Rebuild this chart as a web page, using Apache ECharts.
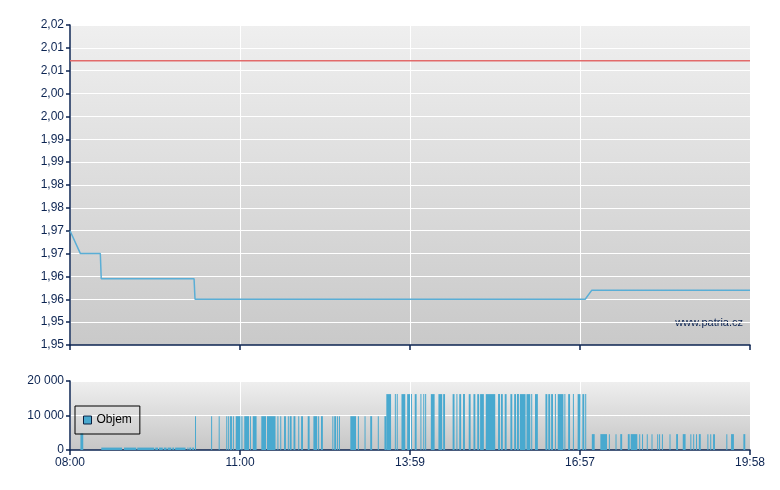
<!DOCTYPE html>
<html>
<head>
<meta charset="utf-8">
<script src="https://cdn.jsdelivr.net/npm/echarts@6/dist/echarts.min.js"></script>
<style>html,body{margin:0;padding:0;background:#fff;}#c{width:780px;height:490px;}</style>
</head>
<body>
<div id="c"></div>
<script>
// minutes since 08:00
var xLabels = ['08:00', '11:00', '13:59', '16:57', '19:58'];
var xMax = 718;
var priceLine = [[0, 1.975], [11, 1.970], [32, 1.970], [33, 1.9645], [131, 1.9645], [132, 1.960], [544, 1.960], [551, 1.962], [718, 1.962]];
var refPrice = 2.0122;
var priceTicks = { min: 1.95, max: 2.02, step: 0.005 };
var volTicks = { min: 0, max: 20000, step: 10000 };
// [start minute, end minute, volume]
var volumeBars = [
  [11,14,4800],
  [33,55,700],[57,70,700],[71,89,700],[90,93,700],[94,98,700],[99,102,700],[103,107,700],[108,110,700],[111,122,700],[124,125,700],[126,128,700],[129,131,700],
  [132,133,9800],[149,150,9800],[157,158,9800],[165,166,9800],[167,168,9800],[169,171,9800],[172,173,9800],[175,180,9800],
  [181,182,9800],[184,189,9800],[190,191,9800],[193,197,9800],[202,207,9800],[208,217,9800],[219,220,9800],[222,223,9800],
  [226,228,9800],[230,231,9800],[232,234,9800],[236,238,9800],[241,242,9800],[244,246,9800],[251,253,9800],[257,261,9800],
  [262,263,9800],[265,267,9800],[277,278,9800],[279,281,9800],[282,283,9800],[284,285,9800],[296,302,9800],[304,305,9800],
  [311,312,9800],[317,319,9800],[325,326,9800],[332,334,9800],
  [334,339,16200],[343,344,16200],[345,346,16200],[350,354,16200],[356,359,16200],[360,361,16200],[364,366,16200],
  [370,371,16200],[373,374,16200],[375,376,16200],[381,385,16200],[389,393,16200],[394,396,16200],[404,406,16200],
  [408,409,16200],[411,413,16200],[415,417,16200],[421,423,16200],[426,428,16200],[430,432,16200],[433,437,16200],
  [439,449,16200],[452,454,16200],[455,457,16200],[459,461,16200],[465,467,16200],[469,471,16200],[472,474,16200],
  [475,481,16200],[482,486,16200],[487,488,16200],[491,494,16200],[502,504,16200],[505,507,16200],[508,510,16200],
  [512,513,16200],[515,521,16200],[522,523,16200],[526,528,16200],[531,532,16200],[536,539,16200],[541,543,16200],[544,545,16200],
  [551,554,4600],[560,567,4600],[569,570,4600],[576,577,4600],[581,583,4600],[589,591,4600],[592,599,4600],[601,602,4600],
  [604,605,4600],[609,610,4600],[614,615,4600],[620,621,4600],[622,623,4600],[625,626,4600],[633,634,4600],[640,642,4600],
  [647,650,4600],[655,656,4600],[658,659,4600],[661,662,4600],[664,666,4600],[673,674,4600],[676,677,4600],[679,681,4600],
  [693,694,4600],[698,701,4600],[711,713,4600]
];

var navy = '#0c2452';
var bgGrad = new echarts.graphic.LinearGradient(0, 0, 0, 1, [{offset: 0, color: '#efefef'}, {offset: 1, color: '#c9c9c9'}]);
var bgGrad2 = new echarts.graphic.LinearGradient(0, 0, 0, 1, [{offset: 0, color: '#efefef'}, {offset: 1, color: '#c6c6c6'}]);
var font = 'Arial, "Liberation Sans", sans-serif';
var xInterval = xMax / 4;

function xAxisCfg(gi, showLabels) {
  return {
    type: 'value', gridIndex: gi, min: 0, max: xMax, interval: xInterval,
    axisLine: { show: true, lineStyle: { color: navy, width: 1.5 } },
    axisTick: { show: true, length: 5, lineStyle: { color: navy, width: 1.5 } },
    axisLabel: { show: showLabels, color: navy, fontSize: 12, fontFamily: font, margin: 7,
      formatter: function (v) { return xLabels[Math.round(v / xInterval)] || ''; } },
    splitLine: { show: true, lineStyle: { color: '#ffffff', width: 1 } }
  };
}

var chart = echarts.init(document.getElementById('c'), null, { renderer: 'canvas' });
chart.setOption({
  animation: false,
  backgroundColor: '#ffffff',
  grid: [
    { left: 70, top: 25, width: 680, height: 320, show: true, backgroundColor: bgGrad, borderWidth: 0 },
    { left: 70, top: 381, width: 680, height: 69, show: true, backgroundColor: bgGrad2, borderWidth: 0 }
  ],
  xAxis: [xAxisCfg(0, false), xAxisCfg(1, true)],
  yAxis: [
    { type: 'value', gridIndex: 0, min: priceTicks.min, max: priceTicks.max, interval: priceTicks.step,
      axisLine: { show: true, lineStyle: { color: navy, width: 1.5 } },
      axisTick: { show: true, length: 4, lineStyle: { color: navy, width: 1.5 } },
      axisLabel: { color: navy, fontSize: 12, fontFamily: font, margin: 6,
        formatter: function (v) { return (Math.floor(v * 100 + 1e-6) / 100).toFixed(2).replace('.', ','); } },
      splitLine: { show: true, lineStyle: { color: '#ffffff', width: 1 } } },
    { type: 'value', gridIndex: 1, min: volTicks.min, max: volTicks.max, interval: volTicks.step,
      axisLine: { show: true, lineStyle: { color: navy, width: 1.5 } },
      axisTick: { show: true, length: 4, lineStyle: { color: navy, width: 1.5 } },
      axisLabel: { color: navy, fontSize: 12, fontFamily: font, margin: 6,
        formatter: function (v) { return String(v).replace(/\B(?=(\d{3})+(?!\d))/g, ' '); } },
      splitLine: { show: true, lineStyle: { color: '#ffffff', width: 1 } } }
  ],
  legend: {
    left: 75, top: 406, orient: 'vertical',
    backgroundColor: 'rgba(0,0,0,0)', borderColor: '#000', borderWidth: 1,
    padding: [8, 8, 8, 8], itemWidth: 8, itemHeight: 8, itemGap: 4,
    textStyle: { color: '#000', fontSize: 12, fontFamily: font },
    data: [{ name: 'Objem', icon: 'rect', itemStyle: { color: '#49a9cf', borderColor: '#0c2040', borderWidth: 1 } }]
  },
  graphic: [
    { type: 'text', right: 37, top: 317, style: { text: 'www.patria.cz', fill: navy, font: '11px ' + font } }
  ],
  series: [
    { name: 'ref', type: 'line', xAxisIndex: 0, yAxisIndex: 0, symbol: 'none',
      lineStyle: { color: '#e26a6a', width: 1.5 },
      data: [[0, refPrice], [xMax, refPrice]] },
    { name: 'Cena', type: 'line', xAxisIndex: 0, yAxisIndex: 0, symbol: 'none',
      lineStyle: { color: '#5aaed6', width: 1.5 },
      data: priceLine },
    { name: 'Objem', type: 'custom', xAxisIndex: 1, yAxisIndex: 1,
      encode: { x: [0, 1], y: 2 },
      renderItem: function (params, api) {
        var p0 = api.coord([api.value(0), api.value(2)]);
        var p1 = api.coord([api.value(1), 0]);
        return { type: 'rect',
          shape: { x: p0[0], y: p0[1], width: Math.max(p1[0] - p0[0], 1), height: p1[1] - p0[1] },
          style: { fill: '#49a9cf' } };
      },
      data: volumeBars }
  ]
});
</script>
</body>
</html>
